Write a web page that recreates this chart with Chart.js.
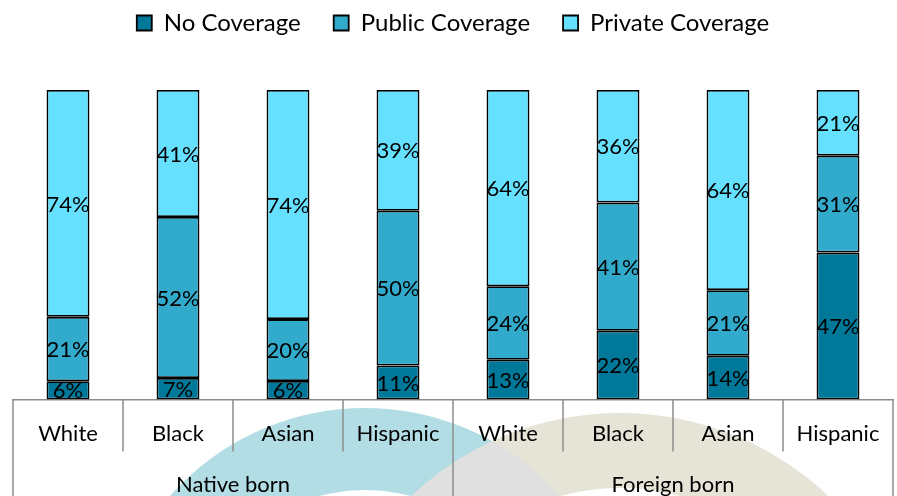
<!DOCTYPE html>
<html>
<head>
<meta charset="utf-8">
<script src="https://cdn.jsdelivr.net/npm/chart.js@4.4.1/dist/chart.umd.min.js"></script>
<style>
  html, body { margin: 0; padding: 0; background: #fff; }
  #wrap { width: 897px; height: 496px; }
</style>
</head>
<body>
<div id="wrap"><canvas id="coverageChart"></canvas></div>
<script>
const CATEGORIES = ['White', 'Black', 'Asian', 'Hispanic', 'White', 'Black', 'Asian', 'Hispanic'];
const GROUPS = ['Native born', 'Foreign born'];
const GROUP_SIZE = 4;

const NO_COVERAGE = [6, 7, 6, 11, 13, 22, 14, 47];
const PUBLIC_COVERAGE = [21, 52, 20, 50, 24, 41, 21, 31];
const PRIVATE_COVERAGE = [74, 41, 74, 39, 64, 36, 64, 21];

const FONT = 'Lato';
const AXIS_COLOR = '#8c8c8c';

Chart.defaults.font.family = FONT;
Chart.defaults.color = '#000';

// 100% stacked: each column is scaled to its own total, labels keep the printed value
const totals = CATEGORIES.map((_, i) => NO_COVERAGE[i] + PUBLIC_COVERAGE[i] + PRIVATE_COVERAGE[i]);
function toShare(values) {
  return values.map((v, i) => (v / totals[i]) * 100);
}

function makeDataset(label, raw, color) {
  return {
    label,
    data: toShare(raw),
    raw,
    backgroundColor: color,
    borderColor: '#000',
    borderWidth: 1.8,
    borderSkipped: false,
    categoryPercentage: 1,
    barPercentage: 0.39,
  };
}

// soft rings behind the axis labels
const backdrop = {
  id: 'backdrop',
  beforeDraw(chart) {
    const ctx = chart.ctx;
    const teal = { x: 365, y: 668, r: 260, inner: 178 };
    const sand = { x: 620, y: 716, r: 303, inner: 228 };
    ctx.save();
    ctx.beginPath();
    ctx.rect(0, chart.chartArea.bottom, chart.width, chart.height);
    ctx.clip();

    function ring(c, color) {
      ctx.beginPath();
      ctx.arc(c.x, c.y, c.r, 0, Math.PI * 2);
      ctx.arc(c.x, c.y, c.inner, 0, Math.PI * 2, true);
      ctx.fillStyle = color;
      ctx.fill('evenodd');
    }
    ring(teal, '#b3dde4');
    ring(sand, '#e6e3d7');

    ctx.beginPath();
    ctx.arc(teal.x, teal.y, teal.r, 0, Math.PI * 2);
    ctx.clip();
    ctx.beginPath();
    ctx.arc(sand.x, sand.y, sand.r, 0, Math.PI * 2);
    ctx.fillStyle = '#e0e0e0';
    ctx.fill();
    ctx.restore();
  },
};

const segmentLabels = {
  id: 'segmentLabels',
  afterDatasetsDraw(chart) {
    const ctx = chart.ctx;
    ctx.save();
    ctx.font = `22px ${FONT}`;
    ctx.fillStyle = '#000';
    ctx.textAlign = 'center';
    ctx.textBaseline = 'middle';
    chart.data.datasets.forEach((ds, di) => {
      chart.getDatasetMeta(di).data.forEach((bar, i) => {
        ctx.fillText(`${ds.raw[i]}%`, bar.x, (bar.y + bar.base) / 2 + 1);
      });
    });
    ctx.restore();
  },
};

// category separators, long group dividers and the group row
const groupAxis = {
  id: 'groupAxis',
  afterDraw(chart) {
    const ctx = chart.ctx;
    const xScale = chart.scales.x;
    const step = xScale.getPixelForValue(1) - xScale.getPixelForValue(0);
    const bottom = chart.chartArea.bottom;
    ctx.save();
    ctx.strokeStyle = AXIS_COLOR;
    ctx.lineWidth = 1.5;
    for (let i = 0; i <= CATEGORIES.length; i++) {
      const x = xScale.getPixelForValue(i) - step / 2;
      const end = i % GROUP_SIZE === 0 ? chart.height : bottom + 52;
      ctx.beginPath();
      ctx.moveTo(x, bottom);
      ctx.lineTo(x, end);
      ctx.stroke();
    }
    ctx.font = `22px ${FONT}`;
    ctx.fillStyle = '#000';
    ctx.textAlign = 'center';
    ctx.textBaseline = 'middle';
    GROUPS.forEach((name, g) => {
      const first = xScale.getPixelForValue(g * GROUP_SIZE);
      const last = xScale.getPixelForValue(g * GROUP_SIZE + GROUP_SIZE - 1);
      ctx.fillText(name, (first + last) / 2, 485);
    });
    ctx.restore();
  },
};

const legendSpacer = {
  id: 'legendSpacer',
  beforeInit(chart) {
    const fit = chart.legend.fit;
    chart.legend.fit = function () {
      fit.bind(chart.legend)();
      this.height += 45;
    };
  },
};

new Chart(document.getElementById('coverageChart'), {
  type: 'bar',
  data: {
    labels: CATEGORIES,
    datasets: [
      makeDataset('No Coverage', NO_COVERAGE, '#00789a'),
      makeDataset('Public Coverage', PUBLIC_COVERAGE, '#31aacb'),
      makeDataset('Private Coverage', PRIVATE_COVERAGE, '#66e0ff'),
    ],
  },
  options: {
    responsive: true,
    maintainAspectRatio: false,
    animation: false,
    layout: {
      padding: { left: 13, right: 4, top: -22, bottom: 36 },
    },
    scales: {
      x: {
        stacked: true,
        grid: { display: false },
        border: { color: AXIS_COLOR, width: 1.5 },
        ticks: {
          font: { size: 22 },
          color: '#000',
          padding: 13,
          maxRotation: 0,
          autoSkip: false,
        },
      },
      y: {
        stacked: true,
        display: false,
        min: 0,
        max: 100,
      },
    },
    plugins: {
      legend: {
        position: 'top',
        labels: {
          font: { size: 24 },
          color: '#000',
          boxWidth: 15,
          boxHeight: 15,
          padding: 33,
        },
      },
      tooltip: { enabled: false },
    },
  },
  plugins: [backdrop, segmentLabels, groupAxis, legendSpacer],
});
</script>
</body>
</html>
